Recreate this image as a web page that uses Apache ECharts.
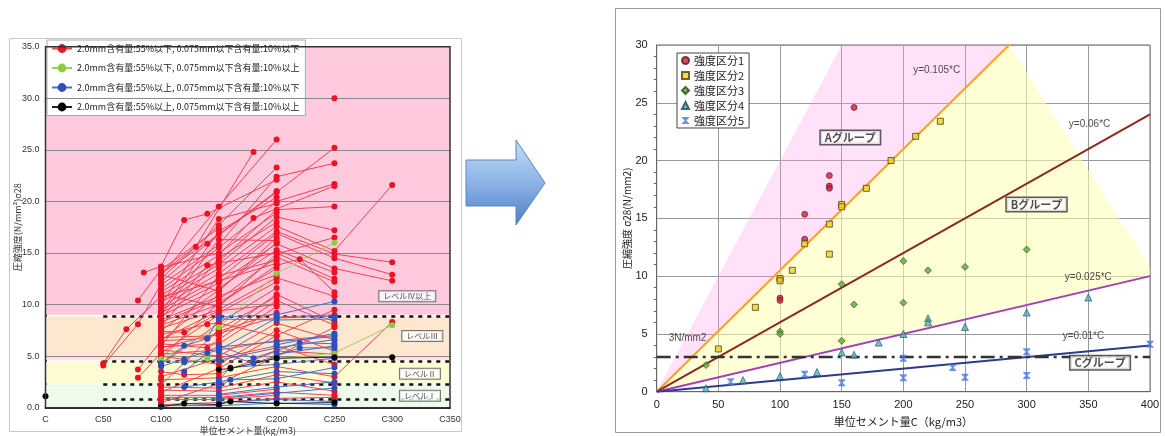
<!DOCTYPE html>
<html><head><meta charset="utf-8">
<script src="https://cdn.jsdelivr.net/npm/echarts@6/dist/echarts.min.js"></script>
<style>html,body{margin:0;padding:0;background:#fff}#c{width:1165px;height:436px}</style>
</head><body><div id="c"></div>
<script>
// ================= LEFT CHART DATA =================
const leftLegendNames = [
  '2.0mm含有量:55%以下, 0.075mm以下含有量:10%以下',
  '2.0mm含有量:55%以下, 0.075mm以下含有量:10%以上',
  '2.0mm含有量:55%以上, 0.075mm以下含有量:10%以下',
  '2.0mm含有量:55%以上, 0.075mm以下含有量:10%以上'
];
// polylines: each is a list of [cement (kg/m3), strength]
const redLines = [
  [[50,4.3],[70,7.6],[100,10.8]],
  [[50,4.1],[80,8.1],[100,12.0]],
  [[80,3.7],[100,6.5],[150,11.0]],
  [[80,2.9],[100,5.3],[150,9.0]],
  [[80,10.4],[100,13.4],[150,17.4]],
  [[85,13.1],[100,13.7],[120,18.2],[140,18.8],[200,22.1]],
  [[100,13.1],[130,15.6],[180,24.8]],
  [[100,12.8],[150,19.5],[200,26.0]],
  [[250,30.0]],
  [[100,12.5],[150,17.7],[200,23.3]],
  [[100,12.2],[140,15.9],[200,20.9],[250,25.2]],
  [[100,11.9],[150,15.8],[200,22.4],[250,23.7]],
  [[100,11.5],[150,15.5],[200,20.0],[250,21.7]],
  [[100,11.2],[150,14.8],[180,18.4],[250,21.5]],
  [[100,10.9],[150,14.2],[200,19.2],[250,19.5]],
  [[100,10.5],[150,13.9],[200,18.5],[250,17.2]],
  [[100,10.2],[150,13.5],[200,17.6],[250,15.2],[300,21.6]],
  [[100,9.8],[150,13.0],[200,17.1],[250,14.9],[300,14.1]],
  [[100,9.5],[150,12.5],[200,16.9],[250,14.5],[300,12.9]],
  [[100,9.2],[150,12.1],[200,15.9],[250,13.5],[300,12.3]],
  [[100,8.9],[150,11.6],[200,15.3],[250,13.1]],
  [[100,8.6],[140,13.8],[200,15.0],[250,12.5]],
  [[100,8.3],[150,10.5],[200,14.6],[250,12.2]],
  [[100,8.0],[150,10.0],[200,13.8],[220,14.4],[250,11.2]],
  [[100,7.7],[150,9.5],[200,12.6],[250,10.8]],
  [[100,7.4],[120,7.3],[150,9.2],[200,12.2]],
  [[100,7.1],[140,8.1],[150,8.2],[200,11.6]],
  [[100,6.8],[150,7.0],[200,11.0],[250,8.3]],
  [[100,6.2],[140,5.8],[150,6.6],[200,10.4],[250,8.0]],
  [[100,5.9],[150,6.2],[200,9.8]],
  [[100,5.6],[150,5.0],[200,8.2],[250,6.6]],
  [[100,5.0],[150,4.2],[200,7.5],[250,5.5]],
  [[100,3.5],[120,3.2],[150,3.3],[200,5.5],[250,5.2]],
  [[100,2.7],[150,2.9],[200,4.0],[250,3.0],[300,8.3]],
  [[100,1.7],[150,1.6],[200,2.5],[250,1.6]],
  [[100,1.2],[150,1.2],[200,1.8]],
  [[100,0.8],[150,0.8],[200,1.2]],
  [[100,0.3],[150,0.5],[200,0.9],[250,1.0]],
  [[100,13.0],[150,16.8],[200,21.0]],
  [[100,6.5],[140,6.7],[150,7.4],[200,9.2]],
  [[100,4.2],[150,8.2],[200,6.9]],
  [[100,10.0],[150,18.3],[200,19.8]],
  [[100,9.0],[150,16.3],[200,16.2]],
  [[100,7.9],[150,14.5],[200,18.0]],
  [[100,6.0],[150,12.8],[200,14.3]],
  [[100,4.8],[150,10.2],[200,13.5]],
  [[100,2.2],[150,7.6],[200,10.8]],
  [[100,1.5],[150,3.8],[200,7.0],[250,9.5]],
  [[100,0.5],[150,2.3],[200,5.0],[250,7.8]],
  [[100,13.6],[150,15.0],[200,18.9]],
  [[100,12.9],[150,11.3],[200,16.5]],
  [[100,11.0],[150,9.8],[200,14.9],[250,16.5]],
  [[100,10.7],[150,12.3],[200,14.0]],
  [[100,9.3],[150,17.1],[200,20.4]],
  [[100,8.5],[150,10.8],[200,12.9]],
  [[100,7.5],[150,11.4],[200,16.0]],
  [[100,6.6],[150,9.4],[200,10.0]],
  [[100,5.8],[150,7.2],[200,8.8],[250,9.0]],
  [[100,5.2],[150,5.6],[200,6.5],[250,7.0]],
  [[100,3.0],[150,4.8],[200,6.0],[250,4.2]],
  [[100,2.0],[150,1.9],[200,3.2],[250,2.4]],
  [[100,1.0],[150,1.0],[200,1.5],[250,1.2]]
];
const greenLines = [
  [[100,4.7],[150,7.8],[200,13.0],[250,16.0]],
  [[100,4.6],[120,4.4],[140,4.8]],
  [[200,4.7],[250,5.3],[300,8.0]]
];
const blueLines = [
  [[100,4.3],[120,6.0],[140,6.7],[150,8.8],[200,9.0],[250,10.3]],
  [[100,4.0],[120,4.7],[150,5.9],[200,6.4],[250,6.9]],
  [[100,0.2],[150,0.2],[200,0.45],[250,0.3]],
  [[120,2.0],[150,2.5],[200,3.5],[250,3.3]],
  [[120,3.5],[140,5.3],[150,5.6],[200,8.7],[250,8.9]],
  [[150,8.6],[200,8.5],[250,8.6]],
  [[150,6.0],[180,4.8],[220,6.3],[250,6.2]],
  [[150,5.4],[180,4.3],[220,5.8],[250,5.8]],
  [[150,2.7],[160,3.9],[200,4.2],[250,4.8]],
  [[150,2.0],[160,2.7],[200,2.8],[250,3.9]],
  [[150,1.3],[200,2.0],[250,2.5]],
  [[150,0.9],[200,1.4],[250,1.9]],
  [[150,0.5],[200,0.8],[250,0.6]],
  [[200,6.1],[250,7.2]],
  [[200,5.2],[250,6.0]],
  [[120,4.4],[150,4.6],[200,5.8],[250,6.6]]
];
const blackLines = [
  [[0,1.1]],
  [[100,0.1],[120,0.4],[150,0.3],[160,0.6],[200,0.4],[250,0.5]],
  [[150,3.7],[160,3.8],[200,4.8],[250,4.9],[300,4.9]]
];
const levelBands = [[0,2.25],[2.35,4.45],[4.6,8.85],[9.0,35]];
const levelLineValues = [8.9, 4.5, 2.3, 0.8];
const levelLabels = [
  {text:'レベルⅣ以上', at:[313,10.8]},
  {text:'レベルⅢ', at:[326,6.95]},
  {text:'レベルⅡ', at:[324,3.3]},
  {text:'レベルⅠ', at:[324,1.15]}
];
const leftGridLines = [5,10,15,20,25,30];

// ================= RIGHT CHART DATA =================
const rightNames = ['強度区分1','強度区分2','強度区分3','強度区分4','強度区分5'];
const class1 = [[160,24.6],[140,18.7],[140,17.8],[140,17.6],[120,15.35],[120,13.2],[100,9.7],[100,8.1],[100,7.9]];
const class2 = [[50,3.7],[80,7.3],[100,9.8],[100,9.6],[110,10.5],[120,12.8],[140,14.5],[140,11.9],[150,16.2],[150,16.0],[170,17.6],[190,20.0],[210,22.1],[230,23.4]];
const class3 = [[40,2.3],[100,5.2],[100,5.0],[150,9.3],[160,7.55],[150,4.4],[200,11.3],[220,10.5],[250,10.8],[300,12.3],[200,7.7]];
const class4 = [[40,0.3],[70,1.0],[100,1.35],[130,1.7],[150,3.4],[160,3.2],[180,4.25],[200,5.0],[220,6.35],[220,6.0],[250,5.6],[300,6.85],[350,8.15]];
const class5 = [[60,0.87],[120,1.5],[150,0.78],[200,2.9],[200,1.2],[240,2.1],[250,1.25],[300,3.45],[300,1.4],[400,4.1]];
const slopes = [0.105, 0.06, 0.025, 0.01];
const threshold = 3;
const zoneA = [[0,0],[150,30],[285.7,30]];
const zoneB = [[0,0],[285.7,30],[400,10.8],[400,10]];
const eqLabels = [
  {text:'y=0.105*C', at:[227,27.8]},
  {text:'y=0.06*C', at:[351,23.1]},
  {text:'y=0.025*C', at:[350,9.9]},
  {text:'y=0.01*C', at:[346,4.8]},
  {text:'3N/mm2', at:[25,4.6]}
];
const groupLabels = [
  {text:'Aグループ', at:[157,22.0]},
  {text:'Bグループ', at:[308,16.2]},
  {text:'Cグループ', at:[359.5,2.5]}
];

// ================= BUILD =================
const FONT = '"Liberation Sans","Noto Sans CJK JP",sans-serif';
const JFONT = '"Noto Sans CJK JP","Liberation Sans",sans-serif';
function flat(polys){
  const out = [];
  polys.forEach((p,i)=>{ if(i) out.push(null); p.forEach(pt=>out.push(pt)); });
  return out;
}
function leftSeries(name, polys, lineColor, dotColor){
  return {
    name, type:'line', xAxisIndex:0, yAxisIndex:0, data:flat(polys),
    connectNulls:false, showSymbol:true, showAllSymbol:true,
    symbol:'circle', symbolSize:6, z:5,
    lineStyle:{color:lineColor, width:1},
    itemStyle:{color:dotColor, borderWidth:0},
    emphasis:{disabled:true}, animation:false
  };
}
const bandColors = ['#eefaea','#fffcd4','#fde7cf','#ffc9de'];

const chart = echarts.init(document.getElementById('c'), null, {renderer:'canvas'});
const zones = [zoneA, zoneB];
const zoneFill = ['rgba(255,160,235,0.30)','rgba(255,255,180,0.55)'];

const option = {
  animation:false,
  backgroundColor:'#fff',
  grid:[
    {left:45.5, top:46.7, width:404.5, height:361, show:true, borderColor:'#333', borderWidth:1.5, z:20, backgroundColor:'transparent', outerBoundsMode:'none', containLabel:false},
    {left:656.7, top:45, width:493.3, height:346.7, show:true, borderColor:'#666', borderWidth:1, backgroundColor:'transparent', outerBoundsMode:'none', containLabel:false}
  ],
  legend:[
    {data:leftLegendNames, orient:'vertical', left:47, top:40, itemGap:10.5, itemWidth:20, itemHeight:11,
     textStyle:{fontSize:9, fontFamily:JFONT, color:'#222'}, backgroundColor:'#fff', borderColor:'#aaa', borderWidth:1,
     padding:[4,6,4,4], selectedMode:false},
    {data:rightNames, orient:'vertical', left:677, top:53, itemGap:4, itemWidth:7, itemHeight:7,
     textStyle:{fontSize:11, fontFamily:JFONT, color:'#222'}, backgroundColor:'#fff', borderColor:'#444', borderWidth:1,
     padding:[2,5,2,4], selectedMode:false}
  ],
  xAxis:[
    {type:'value', gridIndex:0, min:0, max:350, interval:50,
     axisLine:{show:true, lineStyle:{color:'#222', width:2}}, axisTick:{show:false},
     splitLine:{show:false},
     axisLabel:{formatter:v=> v===0?'C':'C'+v, fontSize:9, color:'#333', margin:7, fontFamily:FONT},
     name:'単位セメント量(kg/m3)', nameLocation:'middle', nameGap:18, nameMoveOverlap:false,
     nameTextStyle:{fontSize:9, color:'#333', fontFamily:JFONT}},
    {type:'value', gridIndex:1, min:0, max:400, interval:50,
     axisLine:{show:true, lineStyle:{color:'#666'}}, axisTick:{show:false},
     splitLine:{show:true, lineStyle:{color:'#999', width:1}},
     axisLabel:{fontSize:11, color:'#222', margin:8, fontFamily:FONT},
     name:'単位セメント量C（kg/m3）', nameLocation:'middle', nameGap:25, nameMoveOverlap:false,
     nameTextStyle:{fontSize:11, color:'#222', fontFamily:JFONT}}
  ],
  yAxis:[
    {type:'value', gridIndex:0, min:0, max:35, interval:5,
     axisLine:{show:true, lineStyle:{color:'#222', width:2}}, axisTick:{show:false},
     splitLine:{show:false},
     axisLabel:{formatter:v=>v.toFixed(1), fontSize:9, color:'#333', margin:6, fontFamily:FONT},
     name:'圧縮強度(N/mm²)σ28', nameLocation:'middle', nameGap:23, nameRotate:90, nameMoveOverlap:false,
     nameTextStyle:{fontSize:9, color:'#333', fontFamily:JFONT}},
    {type:'value', gridIndex:1, min:0, max:30, interval:5,
     axisLine:{show:true, lineStyle:{color:'#666'}}, axisTick:{show:false},
     minorTick:{show:true, splitNumber:5, length:3, lineStyle:{color:'#666'}},
     splitLine:{show:true, lineStyle:{color:'#999', width:1}},
     axisLabel:{fontSize:11, color:'#222', margin:9, fontFamily:FONT},
     name:'圧縮強度 σ28(N/mm2)', nameLocation:'middle', nameGap:24, nameRotate:90, nameMoveOverlap:false,
     nameTextStyle:{fontSize:10, color:'#222', fontFamily:JFONT}}
  ],
  graphic:[
    {type:'rect', shape:{x:9.5, y:38.5, width:452, height:393}, style:{fill:'none', stroke:'#c8c8c8', lineWidth:1}, z:0, silent:true},
    {type:'rect', shape:{x:615.5, y:8.5, width:545, height:424}, style:{fill:'none', stroke:'#999', lineWidth:1}, z:0, silent:true},
    {type:'polygon', shape:{points:[[466,160],[516,160],[516,140],[545,183],[516,225],[516,206],[466,206]]},
     style:{fill:{type:'linear',x:0,y:0,x2:0,y2:1,colorStops:[{offset:0,color:'#c4dcf6'},{offset:0.5,color:'#8cb4e6'},{offset:1,color:'#4d7fc6'}]},
            stroke:'#5b86c4', lineWidth:1}, z:0, silent:true}
  ],
  series:[
    {type:'line', xAxisIndex:0, yAxisIndex:0, data:[], z:1, silent:true,
     markArea:{silent:true, data: levelBands.map((b,i)=>[{yAxis:b[0], itemStyle:{color:bandColors[i]}},{yAxis:b[1]}])}},
    {type:'line', xAxisIndex:0, yAxisIndex:0, data:[], z:2, silent:true,
     markLine:{silent:true, symbol:['none','none'], label:{show:false},
       data: leftGridLines.map(v=>({yAxis:v, lineStyle:{color:'#8a8a8a', width:1, type:'solid'}}))
         .concat(levelLineValues.map(v=>[{coord:[50,v], lineStyle:{color:'#111', width:2.5, type:[4,5]}},{coord:[350,v]}]))}},
    leftSeries(leftLegendNames[0], redLines, '#f04455', '#ee1122'),
    leftSeries(leftLegendNames[1], greenLines, '#9fd050', '#8ccc3a'),
    leftSeries(leftLegendNames[2], blueLines, '#4a70c8', '#2a50c0'),
    leftSeries(leftLegendNames[3], blackLines, '#222', '#000'),
    {type:'scatter', xAxisIndex:0, yAxisIndex:0, symbolSize:0, z:10, silent:true,
     data: levelLabels.map(l=>({value:l.at, label:{show:true, position:'inside', formatter:l.text,
       fontSize:8, fontFamily:JFONT, color:'#222', backgroundColor:'#fff', borderColor:'#555', borderWidth:1, padding:[1,4]}}))},
    {type:'custom', xAxisIndex:1, yAxisIndex:1, z:1, silent:true, data:[[0,0],[1,0]],
     renderItem:(params, api)=>{
       const idx = api.value(0);
       return {type:'polygon', shape:{points: zones[idx].map(p=>api.coord(p))}, style:{fill: zoneFill[idx]}};
     }},
    ...slopes.map((k,i)=>{
      const xe = Math.min(400, 30/k);
      const colors = ['#ffa020','#8b2a1e','#a040c0','#2c3c8c'];
      return {type:'line', xAxisIndex:1, yAxisIndex:1, data:[[0,0],[xe,k*xe]], showSymbol:false, z:3,
              lineStyle:{color:colors[i], width:2}, silent:true};
    }),
    {type:'line', xAxisIndex:1, yAxisIndex:1, data:[[0,threshold],[400,threshold]], showSymbol:false, z:3, silent:true,
     lineStyle:{color:'#333', width:2.5, type:[14,5,3,5]}},
    {name:rightNames[0], type:'scatter', xAxisIndex:1, yAxisIndex:1, data:class1, symbol:'circle', symbolSize:6, z:4,
     itemStyle:{color:'#c8203c', borderColor:'#6a1020', borderWidth:0.8}},
    {name:rightNames[1], type:'scatter', xAxisIndex:1, yAxisIndex:1, data:class2, symbol:'rect', symbolSize:6, z:4,
     itemStyle:{color:'#f2d21a', borderColor:'#4a4020', borderWidth:1}},
    {name:rightNames[2], type:'scatter', xAxisIndex:1, yAxisIndex:1, data:class3, symbol:'diamond', symbolSize:7, z:4,
     itemStyle:{color:'#5ea832', borderColor:'#2a4a18', borderWidth:0.8}},
    {name:rightNames[3], type:'scatter', xAxisIndex:1, yAxisIndex:1, data:class4, symbol:'triangle', symbolSize:7, z:4,
     itemStyle:{color:'#4fb4bc', borderColor:'#1f4a50', borderWidth:0.8}},
    {name:rightNames[4], type:'scatter', xAxisIndex:1, yAxisIndex:1, data:class5,
     symbol:'path://M0,0L10,0L10,1.5L6.2,5L10,8.5L10,10L0,10L0,8.5L3.8,5L0,1.5Z', symbolSize:[7,7], z:4,
     itemStyle:{color:'#4a78e0'}},
    {type:'scatter', xAxisIndex:1, yAxisIndex:1, symbolSize:0, z:10, silent:true,
     data: eqLabels.map(l=>({value:l.at, label:{show:true, position:'inside', formatter:l.text,
       fontSize:10, fontFamily:FONT, color:'#222'}}))
       .concat(groupLabels.map(l=>({value:l.at, label:{show:true, position:'inside', formatter:l.text,
       fontSize:11, fontWeight:'bold', fontFamily:JFONT, color:'#222', backgroundColor:'#fff', borderColor:'#333', borderWidth:1.5, padding:[1,4]}})))}
  ]
};
chart.setOption(option);
</script>
</body></html>
